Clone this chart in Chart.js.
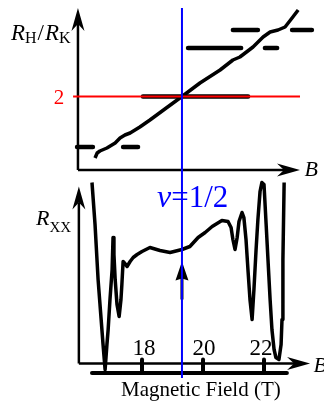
<!DOCTYPE html>
<html>
<head>
<meta charset="utf-8">
<script src="https://cdn.jsdelivr.net/npm/chart.js@4.4.0/dist/chart.umd.min.js"></script>
<style>
html, body { margin: 0; padding: 0; background: #fff; }
#wrap { width: 324px; height: 404px; position: relative; }
</style>
</head>
<body>
<div id="wrap"><canvas id="c"></canvas></div>
<script>
// Hall resistance R_H/R_K against B (tesla)
const hallB = [16.46, 16.53, 16.62, 16.85, 17.12, 17.28, 17.44, 17.61, 17.93, 18.26, 18.75, 19.31, 19.90, 20.56, 20.98, 21.21, 21.64, 21.97, 22.20, 22.46, 22.69, 22.92, 23.12];
const hallR = [0.77, 0.87, 0.91, 0.97, 1.07, 1.17, 1.23, 1.27, 1.39, 1.53, 1.75, 2.00, 2.27, 2.53, 2.73, 2.79, 2.99, 3.19, 3.29, 3.33, 3.39, 3.57, 3.73];

// plateau dashes: [B start, B end, level]
const plateaus = [
    [15.87, 16.39, 0.99],
    [17.38, 17.87, 0.99],
    [18.03, 21.48, 2.00],
    [19.51, 21.25, 2.97],
    [22.03, 22.43, 2.97],
    [20.98, 21.80, 3.33],
    [22.92, 23.57, 3.33]
];

// longitudinal resistance Rxx (arb. units) against B
const rxxB = [16.36, 16.46, 16.56, 16.66, 16.72, 16.79, 16.85, 16.89, 16.95, 17.02, 17.05, 17.08, 17.12, 17.18, 17.25, 17.31, 17.34, 17.38, 17.44, 17.51, 17.61, 17.71, 17.84, 18.00, 18.26, 18.59, 18.92, 19.31, 19.57, 19.84, 20.07, 20.30, 20.62, 20.82, 20.92, 20.98, 21.05, 21.12, 21.18, 21.28, 21.34, 21.41, 21.48, 21.54, 21.61, 21.67, 21.74, 21.80, 21.87, 21.93, 22.00, 22.07, 22.13, 22.20, 22.26, 22.33, 22.39, 22.49, 22.56, 22.59, 22.62, 22.66];
const rxxR = [1.81, 1.39, 0.84, 0.44, 0.20, -0.06, 0.19, 0.34, 0.64, 0.94, 1.26, 1.09, 0.84, 0.59, 0.47, 0.64, 0.79, 1.02, 1.00, 0.97, 1.02, 1.06, 1.09, 1.12, 1.16, 1.13, 1.11, 1.14, 1.17, 1.26, 1.31, 1.37, 1.43, 1.42, 1.36, 1.24, 1.14, 1.26, 1.42, 1.51, 1.46, 1.24, 0.91, 0.64, 0.44, 0.74, 1.14, 1.44, 1.72, 1.81, 1.79, 1.39, 1.04, 0.64, 0.34, 0.14, 0.06, 0.04, 0.19, 0.44, 1.04, 1.81];

const nuHalfB = 19.31;   // filling factor 1/2
const hallLevel = 2;     // R_H/R_K plateau marked in red
const tickB = [18, 20, 22];
const tickLabels = ['18', '20', '22'];

const pts = (xs, ys) => xs.map((x, i) => ({ x: x, y: ys[i] }));
const plateauPts = plateaus.flatMap(p => [{ x: p[0], y: p[2] }, { x: p[1], y: p[2] }, { x: p[1], y: null }]);

const SERIF = '"Liberation Serif", "Times New Roman", serif';

function arrow(ctx, x0, y0, x1, y1, len, w, notch) {
    const a = Math.atan2(y1 - y0, x1 - x0);
    ctx.beginPath();
    ctx.moveTo(x0, y0);
    ctx.lineTo(x1 - Math.cos(a) * notch, y1 - Math.sin(a) * notch);
    ctx.stroke();
    ctx.save();
    ctx.translate(x1, y1);
    ctx.rotate(a);
    ctx.beginPath();
    ctx.moveTo(0, 0);
    ctx.lineTo(-len, -w);
    ctx.lineTo(-notch, 0);
    ctx.lineTo(-len, w);
    ctx.closePath();
    ctx.fill();
    ctx.restore();
}

function runs(ctx, x, y, parts) {
    ctx.textAlign = 'left';
    ctx.textBaseline = 'alphabetic';
    parts.forEach(p => {
        ctx.font = p.font;
        ctx.fillText(p.t, x, y + (p.dy || 0));
        x += ctx.measureText(p.t).width + (p.gap || 0);
    });
}

const decor = {
    id: 'decor',
    beforeDatasetsDraw(chart) {
        const ctx = chart.ctx;
        const X = v => chart.scales.x.getPixelForValue(v);
        const H = v => chart.scales.yH.getPixelForValue(v);
        const R = v => chart.scales.yX.getPixelForValue(v);
        ctx.save();
        ctx.strokeStyle = '#000';
        ctx.fillStyle = '#000';
        ctx.lineWidth = 2.5;
        // top panel axes
        arrow(ctx, X(15.90), H(0.53), X(15.90), H(3.77), 23, 6.5, 16);
        arrow(ctx, X(15.90), H(0.53), X(23.18), H(0.53), 23, 6.5, 16);
        // bottom panel axes
        arrow(ctx, X(15.93), R(0), X(15.93), R(1.77), 23, 6.5, 16);
        arrow(ctx, X(15.93), R(0), X(23.51), R(0), 23, 6.5, 16);
        // field scale bar with tick nubs
        ctx.lineWidth = 4;
        ctx.lineCap = 'round';
        ctx.beginPath();
        ctx.moveTo(X(16.36), R(-0.095));
        ctx.lineTo(X(22.75), R(-0.095));
        ctx.stroke();
        tickB.forEach(b => {
            ctx.beginPath();
            ctx.moveTo(X(b), R(-0.095));
            ctx.lineTo(X(b), R(0.04));
            ctx.stroke();
        });
        // arrow marking nu = 1/2 on Rxx
        ctx.lineWidth = 3;
        ctx.lineCap = 'butt';
        arrow(ctx, X(nuHalfB), R(0.64), X(nuHalfB), R(1.02), 19, 6.5, 17);
        ctx.restore();
    },
    afterDatasetsDraw(chart) {
        const ctx = chart.ctx;
        const X = v => chart.scales.x.getPixelForValue(v);
        const H = v => chart.scales.yH.getPixelForValue(v);
        const R = v => chart.scales.yX.getPixelForValue(v);
        ctx.save();
        ctx.fillStyle = '#000';
        runs(ctx, 11, 40, [
            { t: 'R', font: 'italic 23px ' + SERIF },
            { t: 'H', font: '16px ' + SERIF, dy: 3, gap: 1 },
            { t: '/', font: '23px ' + SERIF, gap: 1 },
            { t: 'R', font: 'italic 23px ' + SERIF },
            { t: 'K', font: '16px ' + SERIF, dy: 3 }
        ]);
        runs(ctx, 36, 225, [
            { t: 'R', font: 'italic 22px ' + SERIF },
            { t: 'XX', font: '15px ' + SERIF, dy: 7 }
        ]);
        ctx.font = 'italic 22px ' + SERIF;
        ctx.textAlign = 'left';
        ctx.textBaseline = 'middle';
        ctx.fillText('B', X(23.33), H(0.53));
        ctx.fillText('B', X(23.62), R(-0.03));
        ctx.fillStyle = '#ff0000';
        ctx.font = '21px ' + SERIF;
        ctx.textAlign = 'center';
        ctx.textBaseline = 'alphabetic';
        ctx.fillText(String(hallLevel), 59, H(hallLevel) + 7);
        ctx.fillStyle = '#000';
        ctx.font = '23px ' + SERIF;
        const nudge = [2, 1, -3];
        tickB.forEach((b, i) => ctx.fillText(tickLabels[i], X(b) + nudge[i], R(0.085)));
        ctx.font = '21px ' + SERIF;
        ctx.fillText('Magnetic Field (T)', X(19.93), 396);
        ctx.fillStyle = '#0000ff';
        runs(ctx, 157, 207, [
            { t: 'ν', font: 'italic 32px ' + SERIF },
            { t: '=1/2', font: '31px ' + SERIF }
        ]);
        ctx.restore();
    }
};

new Chart(document.getElementById('c'), {
    type: 'line',
    data: {
        datasets: [
            {
                label: 'nu = 1/2',
                data: [{ x: nuHalfB, y: 3.77 }, { x: nuHalfB, y: -3.63 }],
                yAxisID: 'yH',
                borderColor: '#0000ff',
                borderWidth: 2,
                order: 0
            },
            {
                label: 'R_H/R_K = 2',
                data: [{ x: 15.74, y: hallLevel }, { x: 23.18, y: hallLevel }],
                yAxisID: 'yH',
                borderColor: '#ff0000',
                borderWidth: 2,
                order: 1
            },
            {
                label: 'plateaus',
                data: plateauPts,
                yAxisID: 'yH',
                borderColor: '#000',
                borderWidth: 4.5,
                borderCapStyle: 'round',
                spanGaps: false,
                order: 2
            },
            {
                label: 'R_H/R_K',
                data: pts(hallB, hallR),
                yAxisID: 'yH',
                borderColor: '#000',
                borderWidth: 3.5,
                borderJoinStyle: 'round',
                order: 3
            },
            {
                label: 'R_xx',
                data: pts(rxxB, rxxR),
                yAxisID: 'yX',
                borderColor: '#000',
                borderWidth: 3.5,
                borderJoinStyle: 'round',
                order: 4
            }
        ]
    },
    options: {
        responsive: true,
        maintainAspectRatio: false,
        animation: false,
        events: [],
        layout: { padding: 0 },
        elements: { point: { radius: 0 }, line: { tension: 0 } },
        plugins: { legend: { display: false }, tooltip: { enabled: false } },
        scales: {
            x: { type: 'linear', display: false, min: 13.344, max: 23.967 },
            yH: { type: 'linear', display: false, min: -4.15, max: 3.93 },
            yX: { type: 'linear', display: false, min: -0.405, max: 3.635 }
        }
    },
    plugins: [decor]
});
</script>
</body>
</html>
